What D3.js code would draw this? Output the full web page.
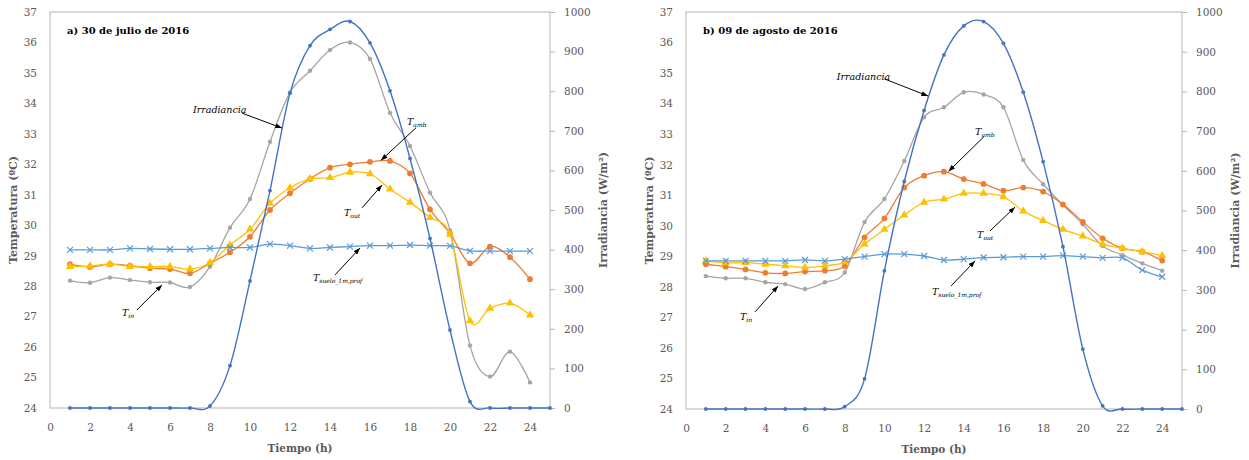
<!DOCTYPE html>
<html>
<head>
<meta charset="utf-8">
<script src="https://cdn.jsdelivr.net/npm/d3@7"></script>
<style>
  body { margin: 0; background: #fff; }
  svg text { font-family: "DejaVu Serif", serif; }
</style>
</head>
<body>
<svg id="chart" width="1249" height="460"></svg>
<script>
// hours
var hoursT = d3.range(1, 25);
var hoursI = d3.range(1, 26);
var xTicks = d3.range(0, 25, 2);
var tTicks = d3.range(24, 38, 1);
var iTicks = d3.range(0, 1001, 100);

// a) 30 de julio de 2016
var irrA   = [0,0,0,0,0,0,0,5,107,321,549,795,915,956,976,922,801,630,428,197,16,0,0,0,0];
var tinA   = [28.18,28.11,28.28,28.2,28.13,28.12,27.97,28.64,29.92,30.86,32.74,34.36,35.07,35.75,36.0,35.46,33.69,32.6,31.07,29.84,26.05,25.03,25.85,24.84];
var tambA  = [28.72,28.63,28.72,28.67,28.59,28.56,28.42,28.75,29.11,29.62,30.5,31.05,31.52,31.89,32.0,32.08,32.11,31.7,30.52,29.73,28.75,29.3,28.95,28.23];
var toutA  = [28.64,28.66,28.72,28.64,28.64,28.64,28.56,28.77,29.35,29.87,30.72,31.23,31.52,31.56,31.74,31.69,31.19,30.75,30.25,29.7,26.86,27.27,27.44,27.05];
var sueloA = [29.19,29.19,29.19,29.24,29.22,29.21,29.21,29.24,29.27,29.27,29.38,29.33,29.24,29.27,29.3,29.33,29.33,29.35,29.33,29.32,29.16,29.15,29.15,29.15];

// b) 09 de agosto de 2016
var irrB   = [0,0,0,0,0,0,0,6,76,348,573,752,892,965,976,921,798,623,409,151,8,0,0,0,0];
var tinB   = [28.35,28.28,28.28,28.15,28.09,27.93,28.15,28.47,30.12,30.88,32.12,33.55,33.88,34.37,34.3,33.88,32.15,31.36,30.68,30.05,29.34,29.04,28.77,28.53];
var tambB  = [28.74,28.66,28.57,28.46,28.44,28.5,28.53,28.68,29.62,30.24,31.25,31.64,31.77,31.53,31.37,31.15,31.25,31.12,30.7,30.13,29.59,29.26,29.15,28.86];
var toutB  = [28.85,28.79,28.79,28.74,28.69,28.64,28.69,28.82,29.4,29.88,30.35,30.77,30.87,31.06,31.06,30.95,30.48,30.17,29.88,29.66,29.4,29.26,29.15,29.02];
var sueloB = [28.85,28.85,28.85,28.85,28.85,28.88,28.85,28.91,28.99,29.07,29.07,29.01,28.88,28.91,28.96,28.97,28.99,28.99,29.02,28.99,28.95,28.95,28.55,28.33];

// annotation labels: text anchor and arrow in data units (hour, °C)
var notesA = [
  {main: "Irradiancia", sub: "", t: [7.15, 33.68], a: [[9.6, 33.68], [11.6, 33.19]]},
  {main: "T", sub: "amb", t: [17.85, 33.29], a: [[18.3, 33.2], [16.55, 32.13]]},
  {main: "T", sub: "out", t: [14.7, 30.3], a: [[15.6, 30.57], [16.6, 31.32]]},
  {main: "T", sub: "in", t: [3.6, 27.02], a: [[4.35, 27.22], [5.6, 28.04]]},
  {main: "T", sub: "suelo_1m,prof", t: [13.15, 28.17], a: [[14.25, 28.37], [15.5, 29.25]]}
];
var notesB = [
  {main: "Irradiancia", sub: "", t: [7.6, 34.77], a: [[10.0, 34.81], [12.2, 34.25]]},
  {main: "T", sub: "amb", t: [14.57, 32.97], a: [[15.02, 32.92], [13.23, 31.78]]},
  {main: "T", sub: "out", t: [14.67, 29.6], a: [[15.32, 29.83], [16.58, 30.61]]},
  {main: "T", sub: "in", t: [2.72, 26.91], a: [[3.48, 27.18], [4.64, 28.03]]},
  {main: "T", sub: "suelo_1m,prof", t: [12.4, 27.73], a: [[13.36, 28.03], [14.57, 28.85]]}
];

var svg = d3.select("#chart");

svg.append("defs").append("marker")
    .attr("id", "arr")
    .attr("viewBox", "0 0 8 6")
    .attr("refX", 8).attr("refY", 3)
    .attr("markerWidth", 7).attr("markerHeight", 5)
    .attr("markerUnits", "userSpaceOnUse")
    .attr("orient", "auto")
  .append("path").attr("d", "M0,0L8,3L0,6Z").attr("fill", "#000");

var curve = d3.curveCardinal.tension(0);
var grey = "#595959";

function drawPanel(p) {
  var x = d3.scaleLinear().domain([0, 25]).range([p.left, p.right]);
  var yT = d3.scaleLinear().domain([24, 37]).range([p.bottom, p.top]);
  var yI = d3.scaleLinear().domain([0, 1000]).range([p.bottom, p.top]);
  var g = svg.append("g");

  g.append("rect")
      .attr("x", p.left).attr("y", p.top)
      .attr("width", p.right - p.left).attr("height", p.bottom - p.top)
      .attr("fill", "none").attr("stroke", "#b4b4b4");

  var ax = g.append("g")
      .attr("transform", "translate(0," + p.bottom + ")")
      .call(d3.axisBottom(x).tickValues(xTicks).tickSize(0).tickPadding(16));
  var ayl = g.append("g")
      .attr("transform", "translate(" + p.left + ",0)")
      .call(d3.axisLeft(yT).tickValues(tTicks).tickSize(0).tickPadding(13));
  var ayr = g.append("g")
      .attr("transform", "translate(" + p.right + ",0)")
      .call(d3.axisRight(yI).tickValues(iTicks).tickFormat(d3.format("d")).tickSize(5).tickPadding(9));
  [ax, ayl, ayr].forEach(function(a) {
    a.select(".domain").remove();
    a.selectAll("text").attr("font-family", "DejaVu Serif").attr("font-size", 10.5).attr("fill", grey);
    a.selectAll("line").attr("stroke", "#b4b4b4");
  });

  // axis titles
  var midY = (p.top + p.bottom) / 2;
  g.append("text")
      .attr("transform", "translate(" + (p.left - 33) + "," + midY + ") rotate(-90)")
      .attr("text-anchor", "middle").attr("font-size", 11).attr("font-weight", "bold")
      .attr("fill", grey).text("Temperatura (ºC)");
  g.append("text")
      .attr("transform", "translate(" + (p.right + 57) + "," + midY + ") rotate(-90)")
      .attr("text-anchor", "middle").attr("font-size", 11).attr("font-weight", "bold")
      .attr("fill", grey).text("Irradiancia (W/m²)");
  g.append("text")
      .attr("x", (p.left + p.right) / 2).attr("y", p.bottom + 44)
      .attr("text-anchor", "middle").attr("font-size", 10.5).attr("font-weight", "bold")
      .attr("fill", grey).text("Tiempo (h)");

  g.append("text")
      .attr("x", p.left + 17).attr("y", p.top + 22)
      .attr("font-size", 10).attr("font-weight", "bold").attr("fill", "#000")
      .text(p.title);

  var temps = [
    {v: p.tin, color: "#A5A5A5", mark: "circle", r: 2.2},
    {v: p.tamb, color: "#ED7D31", mark: "circle", r: 2.9},
    {v: p.tout, color: "#FFC000", mark: "triangle", r: 3.6},
    {v: p.suelo, color: "#5B9BD5", mark: "x", r: 3}
  ];

  var lineT = d3.line().curve(curve)
      .x(function(d, i) { return x(hoursT[i]); })
      .y(function(d) { return yT(d); });

  temps.forEach(function(s) {
    g.append("path").attr("d", lineT(s.v))
        .attr("fill", "none").attr("stroke", s.color).attr("stroke-width", 1.3);
    var pts = g.append("g").selectAll("g").data(s.v).enter().append("g")
        .attr("transform", function(d, i) { return "translate(" + x(hoursT[i]) + "," + yT(d) + ")"; });
    if (s.mark === "circle") {
      pts.append("circle").attr("r", s.r).attr("fill", s.color);
    } else if (s.mark === "triangle") {
      pts.append("path").attr("d", d3.symbol(d3.symbolTriangle, 30)).attr("fill", s.color);
    } else {
      pts.append("path").attr("d", "M-3,-3L3,3M-3,3L3,-3")
          .attr("stroke", s.color).attr("stroke-width", 1.2);
    }
  });

  var lineI = d3.line().curve(curve)
      .x(function(d, i) { return x(hoursI[i]); })
      .y(function(d) { return yI(d); });
  g.append("path").attr("d", lineI(p.irr))
      .attr("fill", "none").attr("stroke", "#4472C4").attr("stroke-width", 1.4);
  g.append("g").selectAll("circle").data(p.irr).enter().append("circle")
      .attr("cx", function(d, i) { return x(hoursI[i]); })
      .attr("cy", function(d) { return yI(d); })
      .attr("r", 1.9).attr("fill", "#4472C4");

  // annotations
  p.notes.forEach(function(n) {
    g.append("line")
        .attr("x1", x(n.a[0][0])).attr("y1", yT(n.a[0][1]))
        .attr("x2", x(n.a[1][0])).attr("y2", yT(n.a[1][1]))
        .attr("stroke", "#000").attr("stroke-width", 1)
        .attr("marker-end", "url(#arr)");
    var t = g.append("text")
        .attr("x", x(n.t[0])).attr("y", yT(n.t[1]))
        .attr("font-family", "Liberation Sans").attr("font-style", "italic")
        .attr("font-size", 9.5).attr("fill", "#000");
    t.append("tspan").text(n.main);
    if (n.sub) t.append("tspan").attr("dy", 2).attr("font-size", 6).text(n.sub);
  });
}

drawPanel({left: 50, right: 550, top: 12, bottom: 408, title: "a) 30 de julio de 2016",
  irr: irrA, tin: tinA, tamb: tambA, tout: toutA, suelo: sueloA, notes: notesA});
drawPanel({left: 686, right: 1182, top: 12, bottom: 409, title: "b) 09 de agosto de 2016",
  irr: irrB, tin: tinB, tamb: tambB, tout: toutB, suelo: sueloB, notes: notesB});
</script>
</body>
</html>
